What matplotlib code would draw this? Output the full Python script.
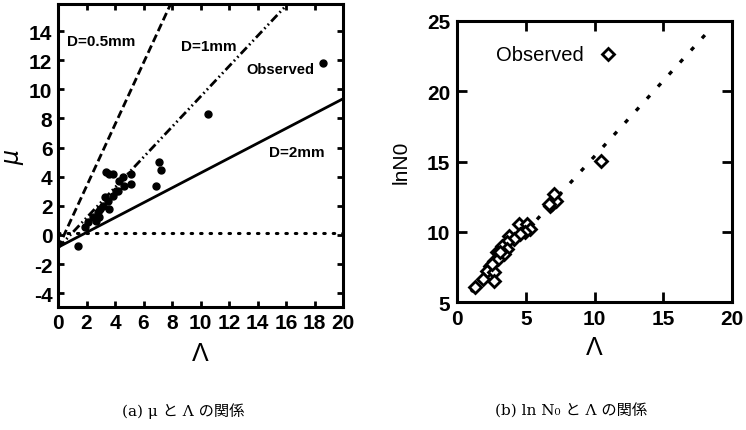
import matplotlib
matplotlib.use("Agg")
import matplotlib.pyplot as plt
import numpy as np

# ---------------- data ----------------
# (a) mu vs Lambda, observed points
obs_a_lambda = [1.40, 3.38, 3.61, 3.87, 4.54, 5.12, 4.30, 5.12, 4.65, 7.10, 7.20, 6.87,
                4.07, 3.84, 3.49, 3.14, 3.61, 2.79, 2.44, 2.68, 2.09, 2.91, 1.86, 4.20,
                3.28, 2.93, 10.50]
obs_a_mu = [-0.73, 4.30, 4.19, 4.20, 3.96, 4.19, 3.73, 3.50, 3.39, 5.00, 4.45, 3.39,
            3.05, 2.70, 2.36, 2.00, 1.79, 1.56, 1.22, 0.98, 0.87, 1.22, 0.53, 3.00,
            2.60, 1.80, 8.30]
# model lines mu = a + b*Lambda for each drop diameter
model_labels = ["D=0.5mm", "D=1mm", "D=2mm"]
model_intercept = [-0.9, -0.9, -0.85]
model_slope = [2.12, 1.04, 0.51]
zero_level = 0.1

# (b) ln N0 vs Lambda, observed points
obs_b_lambda = [10.45, 6.79, 6.90, 7.16, 7.03, 6.67, 4.47, 5.08, 5.33, 4.96, 4.59, 3.74,
                4.10, 3.62, 3.25, 3.62, 2.89, 3.37, 2.64, 3.00, 2.40, 2.15, 2.64, 1.90,
                2.64, 1.30, 3.13, 2.52]
obs_b_lnN0 = [15.06, 11.86, 12.00, 12.20, 12.70, 12.00, 10.56, 10.56, 10.20, 9.97, 9.85, 9.73,
              9.50, 9.26, 9.02, 8.79, 8.55, 8.43, 7.95, 8.07, 7.60, 7.24, 7.13, 6.65,
              6.53, 6.06, 8.55, 7.72]
fit_b_intercept = 4.67
fit_b_slope = 1.07
fit_b_range = [1.0, 18.5]

xticks_a = list(range(0, 21, 2))
yticks_a = list(range(-4, 15, 2))
xticks_b = [0, 5, 10, 15, 20]
yticks_b = [5, 10, 15, 20, 25]

captions = ["(a) μ と Λ の関係", "(b) ln N₀ と Λ の関係"]

# ---------------- figure ----------------
plt.rcParams['font.family'] = ['Liberation Sans', 'DejaVu Sans']
plt.rcParams['axes.unicode_minus'] = False
fig = plt.figure(figsize=(7.46, 4.31), dpi=100)

# ---- panel (a)
axa = fig.add_axes([58/746, 1 - 308/431, 285/746, 303/431])
axa.set_xlim(0, 20)
axa.set_ylim(-4.95, 15.86)
lam = np.linspace(0, 20, 400)
styles = [dict(ls=(0, (2.9, 1.4))),
          dict(ls=(0, (3.2, 1.2, 0.6, 1.2, 0.6, 1.2))),
          dict(ls='-')]
for a, b, st in zip(model_intercept, model_slope, styles):
    axa.plot(lam, a + b * lam, color='black', lw=2.0, **st)
axa.plot([0, 20], [zero_level, zero_level], color='black', lw=2.2,
         ls=(0, (0.5, 2.6)), dash_capstyle='round')
axa.plot(obs_a_lambda, obs_a_mu, 'o', color='black', ms=5, zorder=5)
# key
axa.plot([18.6], [11.8], 'o', color='black', ms=5)
axa.text(18.0, 11.4, "Observed", ha='right', va='center', fontsize=10.5, fontweight='bold')
axa.text(0.6, 13.3, model_labels[0], ha='left', va='center', fontsize=11, fontweight='bold')
axa.text(8.6, 13.0, model_labels[1], ha='left', va='center', fontsize=11, fontweight='bold')
axa.text(14.8, 5.7, model_labels[2], ha='left', va='center', fontsize=11, fontweight='bold')

axa.set_xticks(xticks_a)
axa.set_yticks(yticks_a)
axa.tick_params(direction='in', top=True, right=True, length=4, width=2,
                labelsize=15, pad=4)
for lab in axa.get_xticklabels() + axa.get_yticklabels():
    lab.set_fontweight('bold')
for s in axa.spines.values():
    s.set_linewidth(2.2)
axa.set_xlabel("Λ", fontsize=18, labelpad=7)
axa.set_ylabel(r"$\mu$", fontsize=17, labelpad=2)

# ---- panel (b)
axb = fig.add_axes([457.3/746, 1 - 303.3/431, 274.4/746, 281.6/431])
axb.set_xlim(0, 20)
axb.set_ylim(5, 25)
lb = np.linspace(fit_b_range[0], fit_b_range[1], 200)
axb.plot(lb, fit_b_intercept + fit_b_slope * lb, color='black', lw=2.4,
         ls=(0, (1.3, 3.6)))
axb.plot(obs_b_lambda, obs_b_lnN0, 'D', mfc='white', mec='black', mew=2.0, ms=6.5, zorder=5)
axb.plot([10.97], [22.6], 'D', mfc='white', mec='black', mew=2.0, ms=6.5)
axb.text(9.2, 22.6, "Observed", ha='right', va='center', fontsize=14.5)

axb.set_xticks(xticks_b)
axb.set_yticks(yticks_b)
axb.tick_params(direction='in', top=True, right=True, length=7, width=2,
                labelsize=15, pad=5)
for lab in axb.get_xticklabels() + axb.get_yticklabels():
    lab.set_fontweight('bold')
for s in axb.spines.values():
    s.set_linewidth(2.2)
axb.set_xlabel("Λ", fontsize=18, labelpad=5)
axb.set_ylabel("lnN0", fontsize=15, labelpad=12)

# ---- captions
cap_fam = ['DejaVu Serif', 'Noto Sans CJK JP']
fig.text(183/746, 1 - 411/431, captions[0], ha='center', va='center',
         fontsize=11, family=cap_fam)
fig.text(571/746, 1 - 411/431, captions[1], ha='center', va='center',
         fontsize=11, family=cap_fam)

fig.savefig("out.png", dpi=100)
